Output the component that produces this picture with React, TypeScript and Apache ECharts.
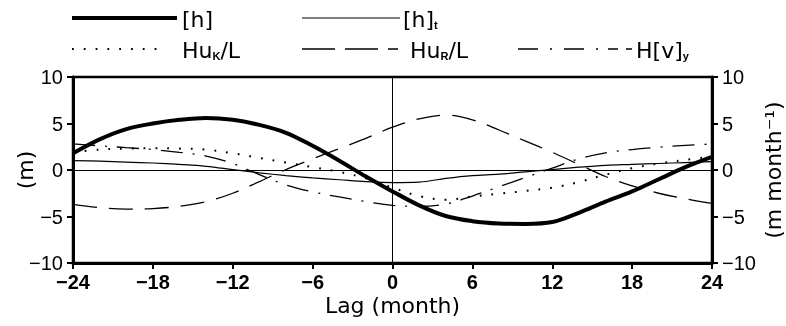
import React, { useEffect, useRef } from "react";
import * as echarts from "echarts";

const lags = [-24, -22, -20, -18, -16, -14, -12, -10, -8, -6, -4, -2, 0, 2, 4, 6, 8, 10, 12, 14, 16, 18, 20, 22, 24];
const hVals = [1.8, 3.3, 4.4, 5.0, 5.4, 5.6, 5.4, 4.85, 4.0, 2.6, 1.0, -0.7, -2.3, -3.8, -4.95, -5.5, -5.75, -5.8, -5.6, -4.6, -3.4, -2.3, -1.0, 0.3, 1.4];
const htVals = [1.0, 0.95, 0.85, 0.75, 0.6, 0.4, 0.05, -0.3, -0.6, -0.85, -1.05, -1.25, -1.35, -1.3, -0.9, -0.6, -0.45, -0.2, 0.05, 0.3, 0.5, 0.6, 0.7, 0.8, 0.9];
const huKVals = [1.9, 2.2, 2.3, 2.35, 2.3, 2.2, 1.8, 1.3, 0.8, 0.3, -0.2, -0.9, -1.9, -2.8, -3.2, -2.85, -2.55, -2.25, -1.9, -1.3, -0.5, 0.2, 0.7, 1.1, 1.45];
const huRVals = [-3.7, -4.05, -4.2, -4.15, -3.9, -3.4, -2.5, -1.25, 0.05, 1.2, 2.3, 3.4, 4.6, 5.5, 5.9, 5.4, 4.3, 3.1, 1.9, 0.6, -0.7, -1.7, -2.5, -3.1, -3.6];
const hvyVals = [2.8, 2.6, 2.4, 2.2, 1.9, 1.5, 0.7, -0.5, -1.6, -2.35, -2.9, -3.4, -3.8, -3.9, -3.65, -2.8, -1.8, -0.8, 0.2, 1.2, 1.85, 2.2, 2.45, 2.65, 2.8];

const xTicks = [-24, -18, -12, -6, 0, 6, 12, 18, 24];
const yTicks = [-10, -5, 0, 5, 10];

const FONT = "DejaVu Sans";
const NUMFONT = "Liberation Sans";

const pair = (vals: number[]) => lags.map((l, i) => [l, vals[i]]);
const fmt = (v: number) => (v < 0 ? "\u2212" + Math.abs(v) : String(v));

export default function App() {
  const ref = useRef<HTMLDivElement>(null);
  useEffect(() => {
    if (!ref.current) return;
    const chart = echarts.init(ref.current, undefined, { renderer: "svg" });
    const legendRich = {
      n: { fontSize: 22, fontFamily: FONT, color: "#000", lineHeight: 24, verticalAlign: "bottom" },
      s: { fontSize: 11, fontFamily: NUMFONT, fontWeight: "bold", color: "#000", lineHeight: 12, verticalAlign: "bottom" },
    };
    const legLine = (x1: number, x2: number, y: number, width: number, dash?: number[]) => ({
      type: "line",
      shape: { x1, y1: y, x2, y2: y },
      style: { stroke: "#000", lineWidth: width, lineDash: dash },
      silent: true,
    });
    const legText = (x: number, y: number, text: string) => ({
      type: "text",
      x,
      y,
      style: { text, rich: legendRich, verticalAlign: "middle", align: "left" },
      silent: true,
    });
    const base = { type: "line", showSymbol: false, symbol: "none", smooth: 0.35, silent: true };
    chart.setOption({
      animation: false,
      grid: {
        left: 73,
        right: 74,
        top: 77,
        bottom: 63,
        outerBoundsMode: "none",
        containLabel: false,
        show: true,
        borderColor: "#000",
        borderWidth: 2.5,
        backgroundColor: "transparent",
      },
      xAxis: {
        type: "value",
        min: -24,
        max: 24,
        interval: 6,
        name: "Lag (month)",
        nameLocation: "middle",
        nameGap: 31,
        nameMoveOverlap: false,
        nameTextStyle: { fontFamily: FONT, fontSize: 22, color: "#000" },
        axisLine: { onZero: false, lineStyle: { color: "#000", width: 3 } },
        axisTick: { show: true, inside: false, length: 6, lineStyle: { color: "#000", width: 2 } },
        axisLabel: {
          margin: 9,
          fontFamily: NUMFONT,
          fontWeight: "bold",
          fontSize: 20,
          color: "#000",
          formatter: (v: number) => (xTicks.includes(v) ? fmt(v) : ""),
        },
        splitLine: { show: false },
      },
      yAxis: [
        {
          type: "value",
          min: -10,
          max: 10,
          interval: 5,
          position: "left",
          name: "(m)",
          nameLocation: "middle",
          nameRotate: 90,
          nameGap: 37,
          nameMoveOverlap: false,
          nameTextStyle: { fontFamily: FONT, fontSize: 22, color: "#000" },
          axisLine: { show: true, onZero: false, lineStyle: { color: "#000", width: 3 } },
          axisTick: { show: true, inside: false, length: 6, lineStyle: { color: "#000", width: 2 } },
          axisLabel: { margin: 10, fontFamily: NUMFONT, fontSize: 20, color: "#000", formatter: (v: number) => (yTicks.includes(v) ? fmt(v) : "") },
          splitLine: { show: false },
        },
        {
          type: "value",
          min: -10,
          max: 10,
          interval: 5,
          position: "right",
          name: "(m month\u207B\u00B9)",
          nameLocation: "middle",
          nameRotate: 90,
          nameGap: 50,
          nameMoveOverlap: false,
          nameTextStyle: { fontFamily: FONT, fontSize: 22, color: "#000" },
          axisLine: { show: true, onZero: false, lineStyle: { color: "#000", width: 3 } },
          axisTick: { show: true, inside: false, length: 6, lineStyle: { color: "#000", width: 2 } },
          axisLabel: { margin: 10, fontFamily: NUMFONT, fontSize: 20, color: "#000", formatter: (v: number) => (yTicks.includes(v) ? fmt(v) : "") },
          splitLine: { show: false },
        },
      ],
      series: [
        {
          ...base,
          name: "Hu_R/L",
          data: pair(huRVals),
          lineStyle: { color: "#000", width: 1.3, type: [24, 12] },
          markLine: {
            silent: true,
            symbol: "none",
            label: { show: false },
            lineStyle: { color: "#000", width: 1, type: "solid" },
            data: [{ xAxis: 0 }, { yAxis: 0 }],
          },
        },
        { ...base, name: "Hu_K/L", data: pair(huKVals), lineStyle: { color: "#000", width: 2, type: [1.8, 10], cap: "butt" } },
        { ...base, name: "H[v]_y", data: pair(hvyVals), lineStyle: { color: "#000", width: 1.3, type: [22, 10, 2, 10] } },
        { ...base, name: "[h]_t", data: pair(htVals), lineStyle: { color: "#000", width: 1.2, type: "solid" } },
        { ...base, name: "[h]", data: pair(hVals), lineStyle: { color: "#000", width: 4, type: "solid" }, z: 5 },
      ],
      graphic: [
        legLine(72, 177, 18, 4),
        legText(182, 18, "{n|[h]}"),
        legLine(302, 400, 18, 1.2),
        legText(403, 18, "{n|[h]}{s|t}"),
        legLine(72, 165, 49, 2, [1.8, 10]),
        legText(182, 49, "{n|Hu}{s|K}{n|/L}"),
        legLine(302, 401, 49, 1.3, [33, 10, 33, 10, 10, 10]),
        legText(410, 49, "{n|Hu}{s|R}{n|/L}"),
        legLine(518, 632, 49, 1.3, [20, 12, 2, 12, 20, 12, 2, 10, 10, 8]),
        legText(636, 49, "{n|H[v]}{s|y}"),
      ],
    });
    return () => chart.dispose();
  }, []);
  return <div ref={ref} style={{ position: "fixed", left: 0, top: 0, width: 786, height: 326 }} />;
}
